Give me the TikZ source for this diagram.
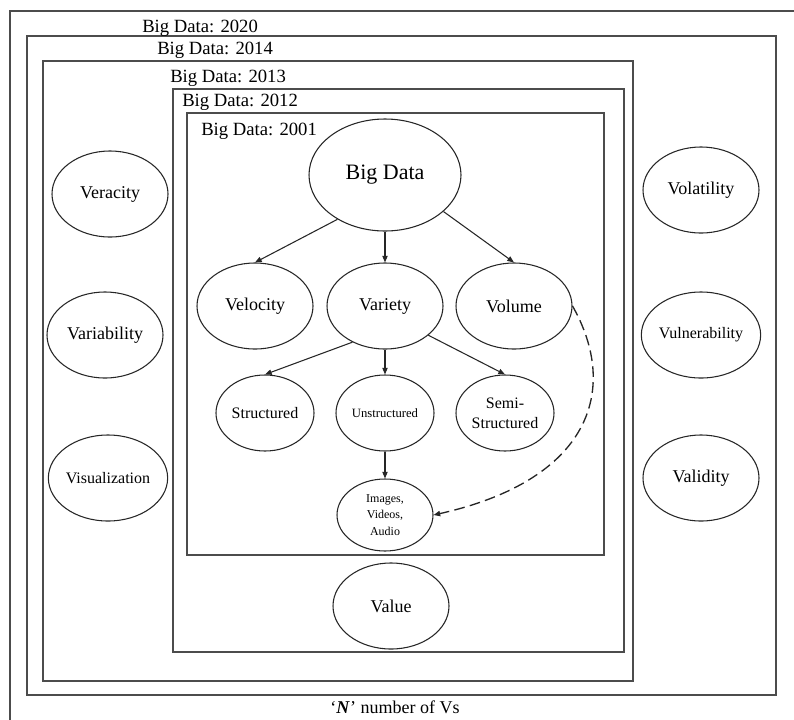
\documentclass[tikz,border=0pt]{standalone}
\usepackage{fontspec}
\setmainfont{Liberation Serif}
\usetikzlibrary{shapes.geometric,arrows.meta}
\tikzset{
  vbox/.style={ellipse, draw=black!85, line width=0.8pt, inner sep=0pt,
    minimum width=87pt, minimum height=64.5pt, align=center,
    font=\fontsize{13.5}{16}\selectfont},
  vsmall/.style={vbox, minimum width=73.5pt, minimum height=57pt},
  frame/.style={draw=black!70, line width=1.1pt},
  yearlbl/.style={anchor=base west, inner sep=0pt, font=\fontsize{14}{16}\selectfont},
  link/.style={draw=black!85, line width=0.8pt, -{Triangle[length=5pt,width=4pt]}},
}
\begin{document}
\begin{tikzpicture}[x=0.75pt,y=-0.75pt]
  \useasboundingbox (0,0) rectangle (794,719);
  % nested frames, the outer one runs off the page
  \draw[frame] (10,11) rectangle (800,725);
  \draw[frame] (27,36) rectangle (776,695);
  \draw[frame] (43,61) rectangle (633,681);
  \draw[frame] (173,89) rectangle (624,652);
  \draw[frame] (187,113) rectangle (604,555);
  \node[yearlbl] (y2020) at (142,32) {Big Data: 2020};
  \node[yearlbl] (y2014) at (157,54) {Big Data: 2014};
  \node[yearlbl] (y2013) at (170,82) {Big Data: 2013};
  \node[yearlbl] (y2012) at (182,106) {Big Data: 2012};
  \node[yearlbl] (y2001) at (201,135) {Big Data: 2001};
  % 2001: three Vs
  \node[vbox, minimum width=114pt, minimum height=84pt,
        font=\fontsize{16.5}{18}\selectfont] (bd) at (385,175) {Big Data};
  \node[vbox] (vel) at (255,306) {Velocity};
  \node[vbox] (var) at (385,306) {Variety};
  \node[vbox] (vol) at (514,306) {Volume};
  \node[vsmall, font=\fontsize{12}{15}\selectfont] (str) at (265,413) {Structured};
  \node[vsmall, font=\fontsize{9.5}{12}\selectfont] (uns) at (385,413) {Unstructured};
  \node[vsmall, font=\fontsize{12}{15}\selectfont] (semi) at (505,413) {Semi-\\Structured};
  \node[vsmall, minimum width=72pt, minimum height=54pt,
        font=\fontsize{9}{12.4}\selectfont] (img) at (385,515) {Images,\\Videos,\\Audio};
  \draw[link] (bd.223) -- (vel.north);
  \draw[link] (bd.south) -- (var.north);
  \draw[link] (bd.328) -- (vol.north);
  \draw[link] (var.228) -- (str.north);
  \draw[link] (var.south) -- (uns.north);
  \draw[link] (var.326) -- (semi.north);
  \draw[link] (uns.south) -- (img.north);
  \draw[link, line width=1pt, dash pattern=on 8pt off 4pt] (vol.east) .. controls (620,390) and (590,480) .. (img.east);
  % later Vs
  \node[vbox] (val) at (391,606) {Value};
  \node[vbox] (ver) at (110,194) {Veracity};
  \node[vbox] (vari) at (105,335) {Variability};
  \node[vbox, font=\fontsize{12}{14}\selectfont] (vis) at (108,478) {Visualization};
  \node[vbox] (vola) at (701,190) {Volatility};
  \node[vbox, font=\fontsize{12}{14}\selectfont] (vuln) at (701,335) {Vulnerability};
  \node[vbox] (vald) at (701,478) {Validity};
  \node[font=\fontsize{13.5}{16}\selectfont] (nvs) at (395,707) {`\textbf{\textit{N}}' number of Vs};
\end{tikzpicture}
\end{document}
